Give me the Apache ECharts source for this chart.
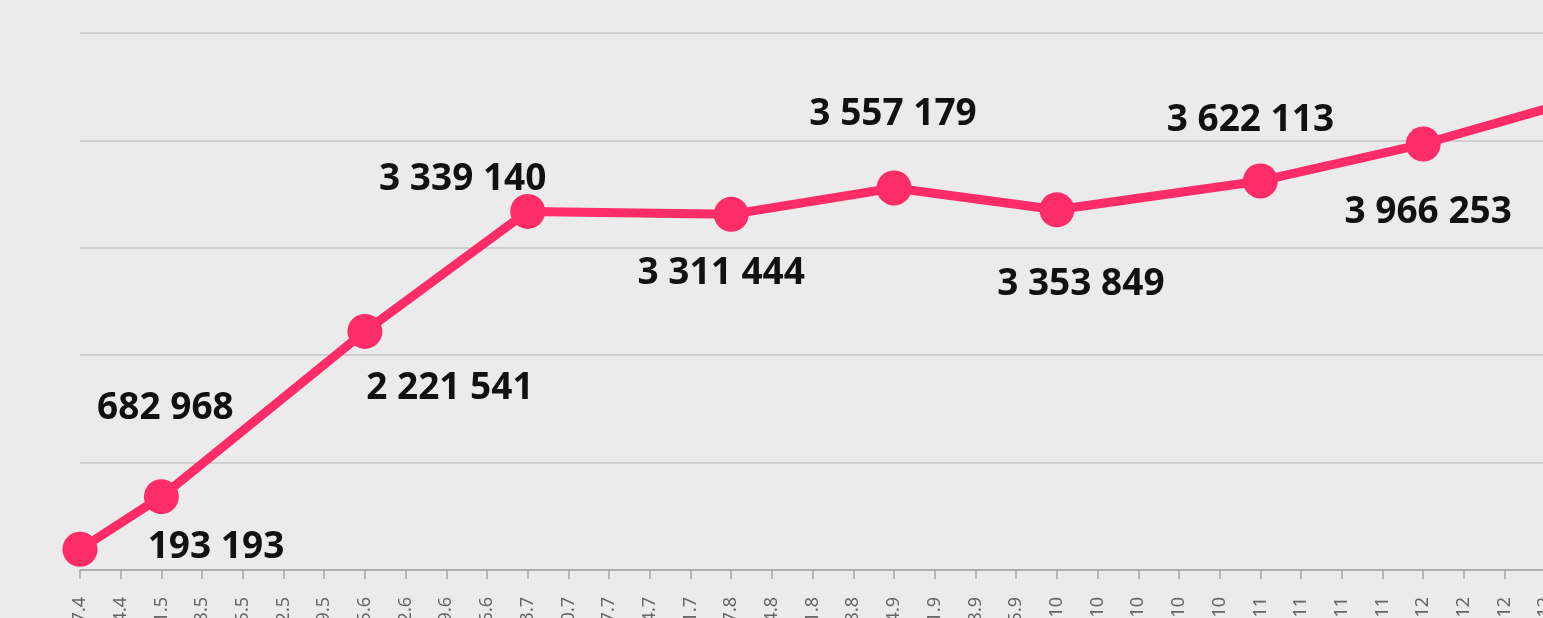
<!DOCTYPE html>
<html>
<head>
<meta charset="utf-8">
<script src="https://cdn.jsdelivr.net/npm/echarts@6/dist/echarts.min.js"></script>
<style>
  html, body { margin: 0; padding: 0; background: #ebebeb; }
  #main { width: 1543px; height: 618px; }
</style>
</head>
<body>
<div id="main"></div>
<script>
// weekly categories (day.month)
const weeks = ['17.4', '24.4', '1.5', '8.5', '15.5', '22.5', '29.5', '5.6', '12.6', '19.6', '26.6',
  '3.7', '10.7', '17.7', '24.7', '31.7', '7.8', '14.8', '21.8', '28.8', '4.9', '11.9', '18.9', '25.9',
  '2.10', '9.10', '16.10', '23.10', '30.10', '6.11', '13.11', '20.11', '27.11', '4.12', '11.12', '18.12', '25.12', '1.1'];

// monthly readings, placed on the week they were taken
const pointWeeks = ['17.4', '1.5', '5.6', '3.7', '7.8', '4.9', '2.10', '6.11', '4.12', '1.1'];
const pointValues = [193193, 682968, 2221541, 3339140, 3311444, 3557179, 3353849, 3622113, 3966253, 4400000];

// label nudges so the labels do not sit on the line
const labelShift = [[136, -2], [4, -88], [85, 57], [-65, -32], [-10, 59], [-1, -74], [24, 75], [-10, -61], [5, 68], [0, -60]];

const fmt = v => String(v).replace(/\B(?=(\d{3})+(?!\d))/g, ' ');

const seriesData = weeks.map(w => {
  const i = pointWeeks.indexOf(w);
  if (i < 0) return null;
  return {
    value: pointValues[i],
    // last reading runs off the right edge, its label is not shown
    label: i === pointWeeks.length - 1 ? { show: false } : { offset: labelShift[i] }
  };
});

const myChart = echarts.init(document.getElementById('main'));
const option = {
  backgroundColor: '#ebebeb',
  animation: false,
  grid: {
    left: 80,
    top: 33,
    width: 1506,
    bottom: 48,
    containLabel: false,
    outerBoundsMode: 'none'
  },
  xAxis: {
    type: 'category',
    boundaryGap: false,
    data: weeks,
    axisLine: { lineStyle: { color: '#a6a6a6', width: 1.5 } },
    axisTick: { show: true, length: 9, interval: 0, lineStyle: { color: '#a6a6a6', width: 1.5 } },
    axisLabel: {
      rotate: 90,
      interval: 0,
      margin: 27,
      color: '#666',
      fontSize: 18,
      fontFamily: 'Noto Sans'
    }
  },
  yAxis: {
    type: 'value',
    min: 0,
    max: 5000000,
    interval: 1000000,
    axisLabel: { show: false },
    axisLine: { show: false },
    axisTick: { show: false },
    splitLine: { lineStyle: { color: '#c4c4c4', width: 1.5 } }
  },
  series: [
    {
      type: 'line',
      data: seriesData,
      connectNulls: true,
      symbol: 'circle',
      symbolSize: 35,
      lineStyle: { color: '#fe2d69', width: 9 },
      itemStyle: { color: '#fe2d69' },
      label: {
        show: true,
        position: 'inside',
        formatter: p => fmt(p.value),
        color: '#111',
        fontSize: 37,
        fontWeight: 'bold',
        fontFamily: 'Noto Sans'
      }
    }
  ]
};
myChart.setOption(option);

window.addEventListener('resize', () => {
  myChart.resize();
});
</script>
</body>
</html>
